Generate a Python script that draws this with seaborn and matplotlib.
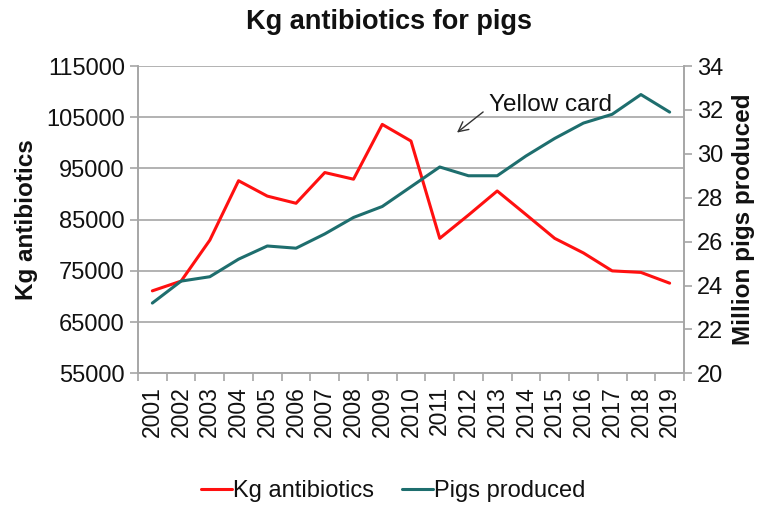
import pandas as pd
import matplotlib.pyplot as plt
import seaborn as sns
from matplotlib.lines import Line2D

# Values
years = list(range(2001, 2020))
kg_antibiotics = [71100, 73000, 81000, 92600, 89600, 88200, 94200, 92900, 103600, 100350,
                  81350, 85900, 90600, 86000, 81350, 78500, 75000, 74700, 72600]
pigs_produced = [23.2, 24.2, 24.4, 25.2, 25.8, 25.7, 26.35, 27.1, 27.6, 28.5,
                 29.4, 29.0, 29.0, 29.9, 30.7, 31.4, 31.8, 32.7, 31.9]

red = "#FF1010"
teal = "#1E6E6E"
grey = "#A6A6A6"
ink = "#111111"

df = pd.DataFrame({"year": years, "kg": kg_antibiotics, "pigs": pigs_produced})

sns.set_style("white")
plt.rcParams["font.family"] = ["Liberation Sans", "DejaVu Sans"]
plt.rcParams["text.color"] = ink
plt.rcParams["axes.labelcolor"] = ink

fig = plt.figure(figsize=(7.64, 5.07), dpi=100)
ax = fig.add_axes([0.1806, 0.2637, 0.7147, 0.6061])
ax2 = ax.twinx()

sns.lineplot(data=df, x="year", y="kg", ax=ax, color=red, linewidth=2.2, legend=False)
sns.lineplot(data=df, x="year", y="pigs", ax=ax2, color=teal, linewidth=2.2, legend=False)

ax.set_xlim(years[0] - 0.5, years[-1] + 0.5)
ax.set_ylim(55000, 115000)
ax.set_yticks(range(55000, 115001, 10000))
ax2.set_ylim(20, 34)
ax2.set_yticks(range(20, 35, 2))

ax.set_xticks(years)
ax.set_xticklabels([str(y) for y in years], rotation=90, fontsize=16.5)
ax.set_xticks([y - 0.5 for y in years] + [years[-1] + 0.5], minor=True)
ax.tick_params(axis="x", which="major", length=0, pad=9, labelcolor=ink)
ax.tick_params(axis="x", which="minor", length=6, color=grey, width=1.2, direction="out", bottom=True)
ax.tick_params(axis="y", length=6, color=grey, width=1.2, labelsize=17, left=True, labelcolor=ink)
ax2.tick_params(axis="y", length=6, color=grey, width=1.2, labelsize=17, right=True, labelcolor=ink)

ax.yaxis.grid(True, color=grey, linewidth=1.2)
ax.set_axisbelow(True)

for a in (ax, ax2):
    for side in ("left", "right", "bottom"):
        a.spines[side].set_color(grey)
        a.spines[side].set_linewidth(1.2)
    a.spines["top"].set_visible(False)

ax.set_xlabel("")
ax.set_ylabel("Kg antibiotics", fontsize=17.5, fontweight="bold", labelpad=6)
ax2.set_ylabel("Million pigs produced", fontsize=17.5, fontweight="bold", labelpad=6)

fig.text(0.509, 0.957, "Kg antibiotics for pigs", ha="center", va="center",
         fontsize=19.5, fontweight="bold")

ax.annotate("Yellow card", xy=(2011.6, 102000), xytext=(2012.7, 107300),
            fontsize=17.5, ha="left", va="center",
            arrowprops=dict(arrowstyle="->", color="#333333", lw=1.0,
                            shrinkA=2, shrinkB=0, relpos=(0, 0.4)))

handles = [Line2D([], [], color=red, lw=2.2), Line2D([], [], color=teal, lw=2.2)]
fig.legend(handles, ["Kg antibiotics", "Pigs produced"], loc="center",
           bbox_to_anchor=(0.515, 0.032), ncol=2, frameon=False, fontsize=17,
           handlelength=1.3, handletextpad=0.05, columnspacing=1.2,
           borderpad=0.1)

fig.savefig("out.png", dpi=100)
